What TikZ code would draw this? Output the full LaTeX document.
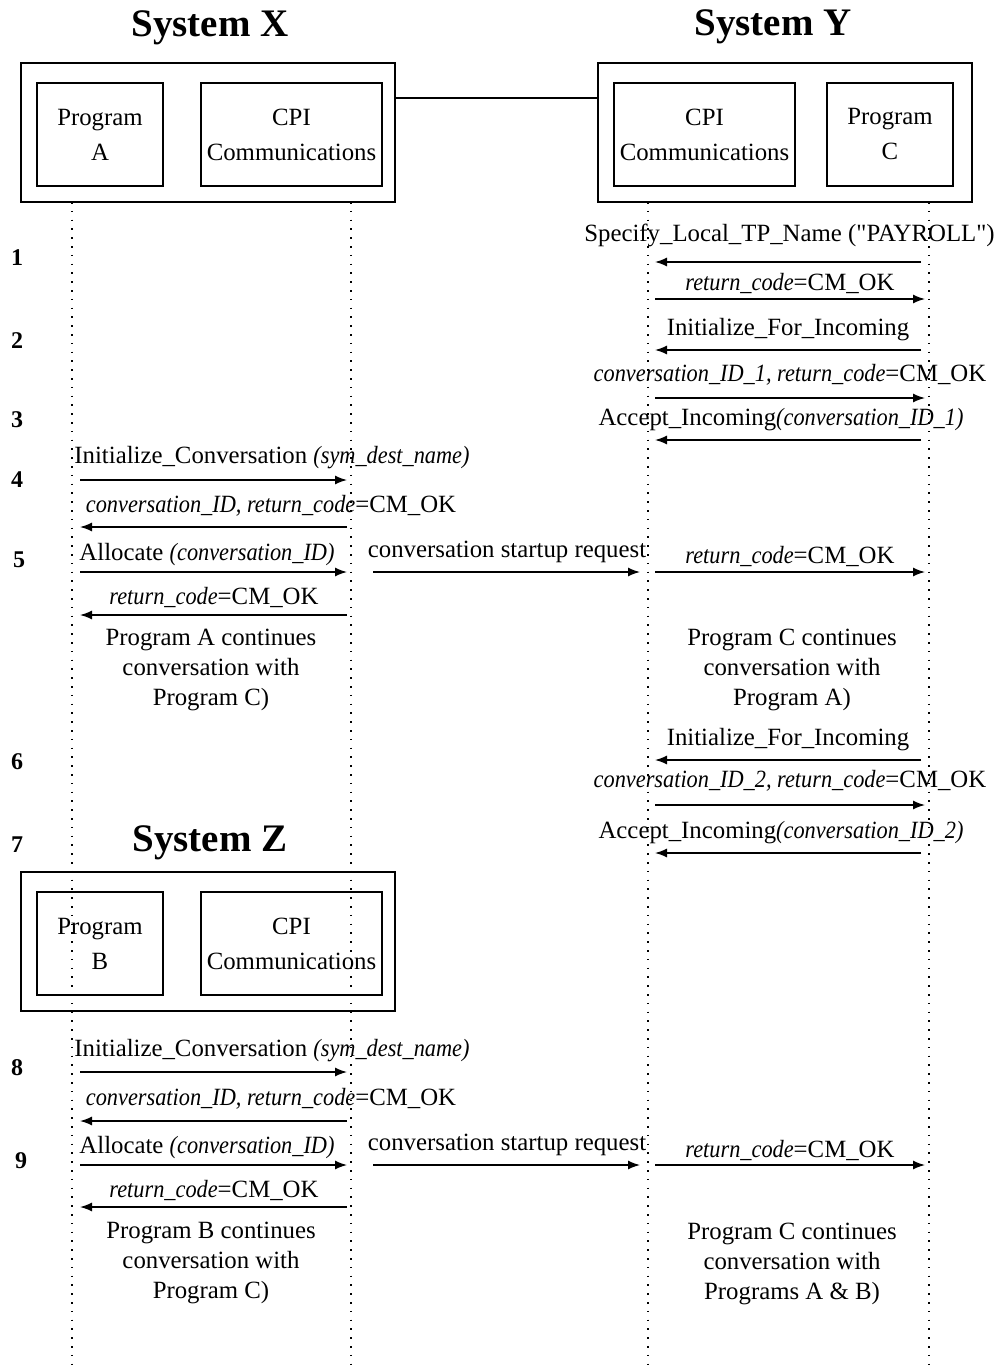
\documentclass[tikz,border=0pt]{standalone}
\usepackage{fontspec}
\setmainfont{Liberation Serif}[ItalicFeatures = {FakeStretch = 0.9}, BoldItalicFeatures = {FakeStretch = 0.9}]
\usetikzlibrary{arrows.meta}
\usetikzlibrary{positioning}
\tikzset{frame/.style = {draw, line width = 0.8pt, minimum width = 187pt, minimum height = 69.5pt, inner sep = 0}}
\tikzset{prog/.style = {draw, line width = 0.8pt, minimum height = 51.5pt, inner sep = 0, align = center, font = \fontsize{12.4}{17.5}\selectfont}}
\tikzset{title/.style = {font = \fontsize{19.5}{22}\selectfont\bfseries}}
\tikzset{stepnum/.style = {font = \fontsize{12}{14}\selectfont\bfseries}}
\tikzset{lbl/.style = {inner sep = 0, align = center, font = \fontsize{12.4}{15}\selectfont}}
\tikzset{life/.style = {line width = 0.6pt, dash pattern = on 0.8pt off 3.6pt}}
\tikzset{msg/.style = {-{Latex[length = 6pt, width = 4.5pt]}, line width = 0.7pt}}

\begin{document}
\begin{tikzpicture}[x = 0.5pt, y = -0.5pt]
      \useasboundingbox (0, 0) rectangle (994, 1370);
      % systems
      \node [title] (tx) at (210, 28) {System X};
      \node [title] (ty) at (773, 27) {System Y};
      \node [title] (tz) at (210, 843) {System Z};
      \node [frame] (sx) at (208, 132.5) {};
      \node [frame] (sy) at (785, 132.5) {};
      \node [frame] (sz) at (208, 941.5) {};
      \node [prog, minimum width = 63pt] (pa) at (100, 134.5) {Program\\A};
      \node [prog, minimum width = 90.5pt] (cx) at (291.5, 134.5) {CPI\\Communications};
      \node [prog, minimum width = 90.5pt] (cy) at (704.5, 134.5) {CPI\\Communications};
      \node [prog, minimum width = 63pt] (pc) at (890, 134.5) {Program\\C};
      \node [prog, minimum width = 63pt] (pb) at (100, 943.5) {Program\\B};
      \node [prog, minimum width = 90.5pt] (cz) at (291.5, 943.5) {CPI\\Communications};
      \draw [line width = 0.8pt] ([yshift = 17.25pt]sx.east) -- ([yshift = 17.25pt]sy.west);
      % lifelines
      \coordinate (la) at (72, 202);
      \coordinate (lx) at (351, 202);
      \coordinate (ly) at (648, 202);
      \coordinate (lc) at (929, 202);
      \coordinate (bottom) at (0, 1370);
      \draw [life] (la) -- (la |- bottom);
      \draw [life] (lx) -- (lx |- bottom);
      \draw [life] (ly) -- (ly |- bottom);
      \draw [life] (lc) -- (lc |- bottom);
      % step numbers
      \node [stepnum] (s1) at (17, 258) {1};
      \node [stepnum] (s2) at (17, 341) {2};
      \node [stepnum] (s3) at (17, 420) {3};
      \node [stepnum] (s4) at (17, 480) {4};
      \node [stepnum] (s5) at (19, 560) {5};
      \node [stepnum] (s6) at (17, 762) {6};
      \node [stepnum] (s7) at (17, 845) {7};
      \node [stepnum] (s8) at (17, 1068) {8};
      \node [stepnum] (s9) at (21, 1161) {9};
      % rows of arrows
      \coordinate (r1) at (0, 262);
      \coordinate (r2) at (0, 299);
      \coordinate (r3) at (0, 350);
      \coordinate (r4) at (0, 398);
      \coordinate (r5) at (0, 440);
      \coordinate (r6) at (0, 480);
      \coordinate (r7) at (0, 527);
      \coordinate (r8) at (0, 572);
      \coordinate (r9) at (0, 615);
      \coordinate (r10) at (0, 760);
      \coordinate (r11) at (0, 805);
      \coordinate (r12) at (0, 853);
      \coordinate (r13) at (0, 1072);
      \coordinate (r14) at (0, 1121);
      \coordinate (r15) at (0, 1165);
      \coordinate (r16) at (0, 1207);
      % system y setup
      \node [lbl] (m1) at (789.5, 235) {Specify\_Local\_TP\_Name (\textquotedbl PAYROLL\textquotedbl)};
      \draw [msg] ([xshift = -4pt]lc |- r1) -- ([xshift = 3.5pt]ly |- r1);
      \node [lbl] (m2) at (790, 283) {\textit{return\_code}=CM\_OK};
      \draw [msg] ([xshift = 3.5pt]ly |- r2) -- ([xshift = -2pt]lc |- r2);
      \node [lbl] (m3) at (788, 330) {Initialize\_For\_Incoming};
      \draw [msg] ([xshift = -4pt]lc |- r3) -- ([xshift = 3.5pt]ly |- r3);
      \node [lbl] (m4) at (790, 375) {\textit{conversation\_ID\_1, return\_code}=CM\_OK};
      \draw [msg] ([xshift = 3.5pt]ly |- r4) -- ([xshift = -2pt]lc |- r4);
      \node [lbl] (m5) at (781, 420) {Accept\_Incoming\textit{(conversation\_ID\_1)}};
      \draw [msg] ([xshift = -4pt]lc |- r5) -- ([xshift = 3.5pt]ly |- r5);
      % program a
      \node [lbl] (m6) at (272, 458) {Initialize\_Conversation \textit{(sym\_dest\_name)}};
      \draw [msg] ([xshift = 4pt]la |- r6) -- ([xshift = -2pt]lx |- r6);
      \node [lbl] (m7) at (271, 506) {\textit{conversation\_ID, return\_code}=CM\_OK};
      \draw [msg] ([xshift = -2pt]lx |- r7) -- ([xshift = 4pt]la |- r7);
      \node [lbl] (m8) at (207, 555) {Allocate \textit{(conversation\_ID)}};
      \draw [msg] ([xshift = 4pt]la |- r8) -- ([xshift = -2pt]lx |- r8);
      \node [lbl] (m9) at (507, 552) {conversation startup request};
      \draw [msg] ([xshift = 11pt]lx |- r8) -- ([xshift = -4pt]ly |- r8);
      \node [lbl] (m10) at (790, 556) {\textit{return\_code}=CM\_OK};
      \draw [msg] ([xshift = 3.5pt]ly |- r8) -- ([xshift = -2pt]lc |- r8);
      \node [lbl] (m11) at (214, 597) {\textit{return\_code}=CM\_OK};
      \draw [msg] ([xshift = -2pt]lx |- r9) -- ([xshift = 4pt]la |- r9);
      \node [lbl] (n1) at (211, 670) {Program A continues\\conversation with\\Program C)};
      \node [lbl] (n2) at (792, 670) {Program C continues\\conversation with\\Program A)};
      % second incoming
      \node [lbl] (m12) at (788, 740) {Initialize\_For\_Incoming};
      \draw [msg] ([xshift = -4pt]lc |- r10) -- ([xshift = 3.5pt]ly |- r10);
      \node [lbl] (m13) at (790, 781) {\textit{conversation\_ID\_2, return\_code}=CM\_OK};
      \draw [msg] ([xshift = 3.5pt]ly |- r11) -- ([xshift = -2pt]lc |- r11);
      \node [lbl] (m14) at (781, 833) {Accept\_Incoming\textit{(conversation\_ID\_2)}};
      \draw [msg] ([xshift = -4pt]lc |- r12) -- ([xshift = 3.5pt]ly |- r12);
      % program b
      \node [lbl] (m15) at (272, 1051) {Initialize\_Conversation \textit{(sym\_dest\_name)}};
      \draw [msg] ([xshift = 4pt]la |- r13) -- ([xshift = -2pt]lx |- r13);
      \node [lbl] (m16) at (271, 1099) {\textit{conversation\_ID, return\_code}=CM\_OK};
      \draw [msg] ([xshift = -2pt]lx |- r14) -- ([xshift = 4pt]la |- r14);
      \node [lbl] (m17) at (207, 1148) {Allocate \textit{(conversation\_ID)}};
      \draw [msg] ([xshift = 4pt]la |- r15) -- ([xshift = -2pt]lx |- r15);
      \node [lbl] (m18) at (507, 1145) {conversation startup request};
      \draw [msg] ([xshift = 11pt]lx |- r15) -- ([xshift = -4pt]ly |- r15);
      \node [lbl] (m19) at (790, 1150) {\textit{return\_code}=CM\_OK};
      \draw [msg] ([xshift = 3.5pt]ly |- r15) -- ([xshift = -2pt]lc |- r15);
      \node [lbl] (m20) at (214, 1190) {\textit{return\_code}=CM\_OK};
      \draw [msg] ([xshift = -2pt]lx |- r16) -- ([xshift = 4pt]la |- r16);
      \node [lbl] (n3) at (211, 1263) {Program B continues\\conversation with\\Program C)};
      \node [lbl] (n4) at (792, 1264) {Program C continues\\conversation with\\Programs A \& B)};
    \end{tikzpicture}
\end{document}
